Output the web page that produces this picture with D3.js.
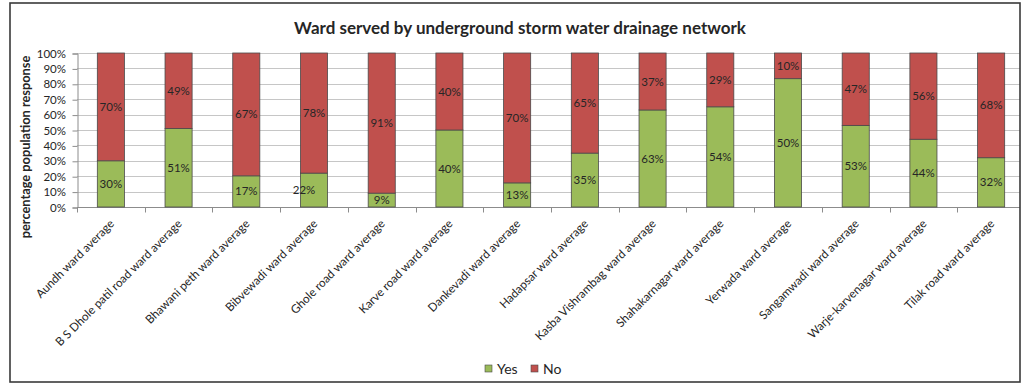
<!DOCTYPE html>
<html>
<head>
<meta charset="utf-8">
<script src="https://cdn.jsdelivr.net/npm/d3@7"></script>
<style>
  html, body { margin: 0; padding: 0; background: #ffffff; }
  svg { display: block; }
  text { font-family: Lato, "Open Sans", sans-serif; fill: #262626; }
</style>
</head>
<body>
<svg id="chart" width="1022" height="383"></svg>
<script>
// Survey responses per ward (percent of respondents)
const wards = [
  "Aundh ward average",
  "B S Dhole patil road ward average",
  "Bhawani peth ward average",
  "Bibvewadi ward average",
  "Ghole road ward average",
  "Karve road ward average",
  "Dankevadi ward average",
  "Hadapsar ward average",
  "Kasba Vishrambag ward average",
  "Shahakarnagar ward average",
  "Yerwada ward average",
  "Sangamwadi ward average",
  "Warje-karvenagar ward average",
  "Tilak road ward average"
];
const yesValues = [30, 51, 17, 22, 9, 40, 13, 35, 63, 54, 50, 53, 44, 32];
const noValues  = [70, 49, 67, 78, 91, 40, 70, 65, 37, 29, 10, 47, 56, 68];
const seriesNames = ["Yes", "No"];
const yTicks = [0, 0.1, 0.2, 0.3, 0.4, 0.5, 0.6, 0.7, 0.8, 0.9, 1.0];

const colors = { Yes: "#9BBB59", No: "#C0504D" };

const svg = d3.select("#chart");

// Outer chart frame
const frame = { x: 10, y: 3, w: 1010, h: 379 };

// Plot area
const plot = { left: 77, right: 1025, top: 53, bottom: 207 };

const rows = wards.map((w, i) => ({ ward: w, Yes: yesValues[i], No: noValues[i] }));

// 100% stacked layout
const stack = d3.stack().keys(seriesNames).offset(d3.stackOffsetExpand);
const layers = stack(rows);

const x = d3.scaleBand().domain(wards).range([plot.left, plot.right]).padding(0);
const y = d3.scaleLinear().domain([0, 1]).range([plot.bottom, plot.top]);
const barW = x.bandwidth() * 0.4;

svg.append("clipPath").attr("id", "frameClip")
  .append("rect").attr("x", frame.x).attr("y", frame.y).attr("width", frame.w).attr("height", frame.h);

const g = svg.append("g").attr("clip-path", "url(#frameClip)");

// Horizontal gridlines
g.append("g").selectAll("line").data(yTicks.slice(1)).join("line")
  .attr("x1", plot.left).attr("x2", plot.right)
  .attr("y1", d => Math.round(y(d)) + 0.5).attr("y2", d => Math.round(y(d)) + 0.5)
  .attr("stroke", "#c6c6c6").attr("stroke-width", 1);

// Y axis
const yAxis = d3.axisLeft(y).tickValues(yTicks).tickFormat(d3.format(".0%")).tickSize(5).tickPadding(6.5);
const yg = g.append("g").attr("transform", `translate(${plot.left + 0.5},0.5)`).call(yAxis);
yg.select(".domain").attr("stroke", "#8c8c8c");
yg.selectAll(".tick line").attr("stroke", "#8c8c8c");
yg.selectAll(".tick text").attr("font-size", 11.5).attr("fill", "#333");

// X axis with ticks on category boundaries
const xg = g.append("g").attr("transform", `translate(0,${plot.bottom + 0.5})`);
xg.append("line").attr("x1", plot.left).attr("x2", plot.right).attr("stroke", "#8c8c8c");
xg.selectAll("line.tk").data(wards.map(w => x(w)).concat([plot.right])).join("line")
  .attr("class", "tk")
  .attr("x1", d => Math.round(d) + 0.5).attr("x2", d => Math.round(d) + 0.5)
  .attr("y1", 0).attr("y2", 5).attr("stroke", "#8c8c8c");

// Category labels
xg.selectAll("text.cat").data(wards).join("text")
  .attr("class", "cat")
  .attr("text-anchor", "end")
  .attr("font-size", 11.7)
  .attr("fill", "#333")
  .attr("transform", d => `translate(${x(d) + x.bandwidth() / 2 + 4},${17}) rotate(-45)`)
  .text(d => d);

// Stacked bars
const layerG = g.selectAll("g.layer").data(layers).join("g")
  .attr("class", "layer")
  .attr("fill", d => colors[d.key]);

layerG.selectAll("rect").data(d => d).join("rect")
  .attr("x", d => x(d.data.ward) + (x.bandwidth() - barW) / 2)
  .attr("y", d => y(d[1]))
  .attr("width", barW)
  .attr("height", d => y(d[0]) - y(d[1]))
  .attr("stroke", "#4a4a4a")
  .attr("stroke-width", 0.8);

// Data labels in the middle of each segment
const labelNudge = { "Bibvewadi ward average|Yes": -10 };
layerG.each(function (layer) {
  d3.select(this).selectAll("text").data(layer).join("text")
    .attr("x", d => x(d.data.ward) + x.bandwidth() / 2 + (labelNudge[d.data.ward + "|" + layer.key] || 0))
    .attr("y", d => (y(d[0]) + y(d[1])) / 2)
    .attr("dy", "0.35em")
    .attr("text-anchor", "middle")
    .attr("font-size", 11.5)
    .attr("fill", "#262626")
    .text(d => d.data[layer.key] + "%");
});

// Title
svg.append("text")
  .attr("x", 520).attr("y", 34)
  .attr("text-anchor", "middle")
  .attr("font-size", 17).attr("font-weight", "bold")
  .attr("fill", "#111")
  .text("Ward served by underground storm water drainage network");

// Y axis title
svg.append("text")
  .attr("transform", `translate(30,147) rotate(-90)`)
  .attr("text-anchor", "middle")
  .attr("font-size", 12.8).attr("font-weight", "bold")
  .attr("fill", "#111")
  .text("percentage population response");

// Legend
const legend = svg.append("g").attr("transform", "translate(485,365)");
const legItems = legend.selectAll("g").data(seriesNames).join("g")
  .attr("transform", (d, i) => `translate(${i * 46},0)`);
legItems.append("rect").attr("width", 7).attr("height", 7)
  .attr("fill", d => colors[d]).attr("stroke", "#4a4a4a").attr("stroke-width", 0.6);
legItems.append("text").attr("x", 12).attr("y", 3.5).attr("dy", "0.38em")
  .attr("font-size", 14).attr("fill", "#333").text(d => d);

// Frame
svg.append("rect")
  .attr("x", frame.x).attr("y", frame.y).attr("width", frame.w).attr("height", frame.h)
  .attr("fill", "none").attr("stroke", "#3a3a3a").attr("stroke-width", 1.6);
</script>
</body>
</html>
